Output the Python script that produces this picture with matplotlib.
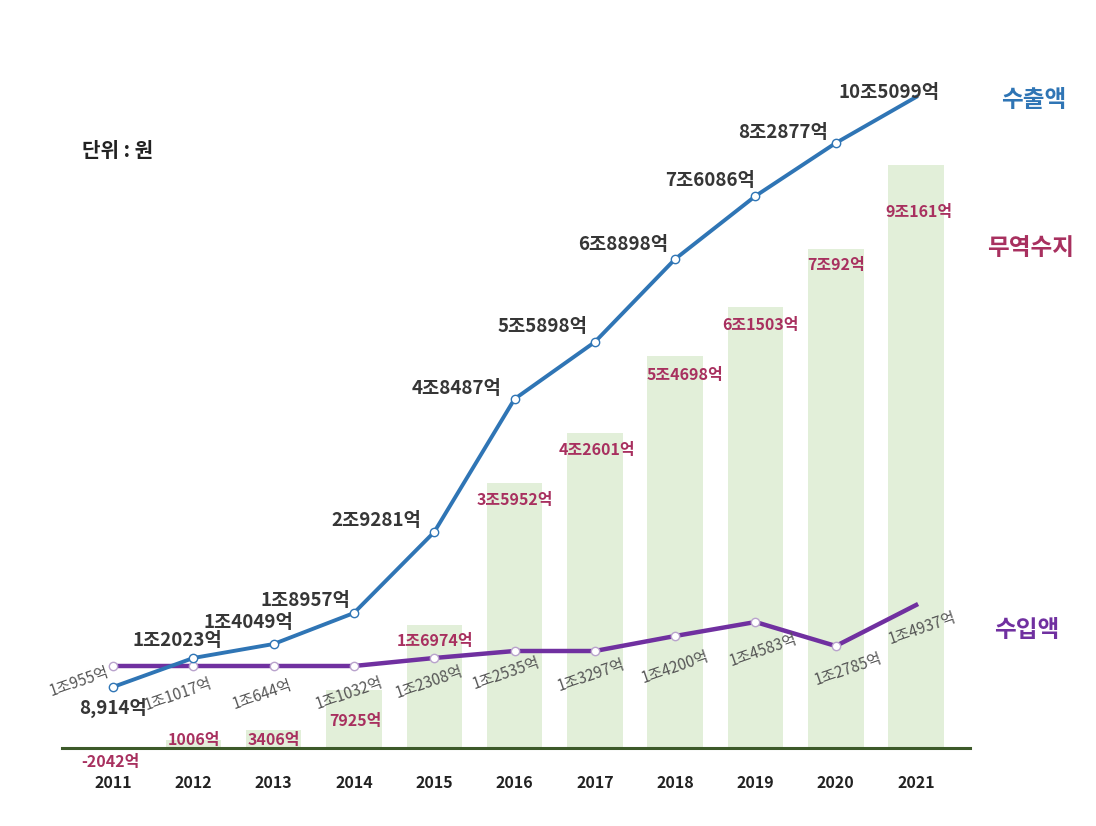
import matplotlib.pyplot as plt
import numpy as np

plt.rcParams['font.family'] = ['Noto Sans CJK KR', 'DejaVu Sans']

# --- 데이터 (단위: 억 원) ---
years = ['2011', '2012', '2013', '2014', '2015', '2016', '2017', '2018', '2019', '2020', '2021']
export_labels = ['8,914억', '1조2023억', '1조4049억', '1조8957억', '2조9281억', '4조8487억',
                 '5조5898억', '6조8898억', '7조6086억', '8조2877억', '10조5099억']
import_labels = ['1조955억', '1조1017억', '1조644억', '1조1032억', '1조2308억', '1조2535억',
                 '1조3297억', '1조4200억', '1조4583억', '1조2785억', '1조4937억']
balance_labels = ['-2042억', '1006억', '3406억', '7925억', '1조6974억', '3조5952억',
                  '4조2601억', '5조4698억', '6조1503억', '7조92억', '9조161억']

# 그림에 그려진 높이 (원본 그래프의 시각적 눈금, 비례하지 않음)
export_height = [61, 90, 104, 135, 216, 349, 406, 489, 552, 605, 651]
import_height = [82, 82, 82, 82, 90, 97, 97, 112, 126, 102, 143]
balance_height = [-2, 8, 18, 58, 123, 265, 315, 392, 441, 499, 583]

# --- 라벨 위치 (픽셀 오프셋) ---
export_off = [(0, -21), (-16, 18), (-25, 22), (-49, 13), (-58, 12), (-58, 11),
              (-52, 16), (-52, 15), (-45, 15), (-53, 11), (-27, 4)]
import_off = [(-34, -16), (-15, -28), (-11, -29), (-5, -27), (-5, -24), (-8, -22),
              (-4, -24), (0, -31), (8, -28), (12, -23), (6, -23)]
balance_off = [(-3, -14), (1, 0), (0, -10), (2, -31), (1, -16), (0, -17),
               (2, -17), (10, -19), (5, -18), (0, -16), (3, -47)]

BLUE = '#2f75b5'
PURPLE = '#7030a0'
MAROON = '#a8305f'
BAR_GREEN = '#e2efd9'
BASE_GREEN = '#3d5a2a'

fig = plt.figure(figsize=(10.96, 8.26), dpi=100)
ax = fig.add_axes([0, 0, 1, 1])
ax.set_xlim(-1.407, 12.24)
ax.set_ylim(-78, 748)
ax.axis('off')

x = np.arange(len(years))

# 무역수지 막대
ax.bar(x, balance_height, width=0.69, color=BAR_GREEN, zorder=1)
ax.plot([-0.64, 10.67], [0, 0], color=BASE_GREEN, lw=2.2, zorder=2)

# 수입액 / 수출액 선
ax.plot(x, import_height, color=PURPLE, lw=3.2, zorder=3)
ax.plot(x[:-1], import_height[:-1], 'o', ms=6, mfc='white', mec='#b9a3cc', mew=1.0, zorder=4)
ax.plot(x, export_height, color=BLUE, lw=2.8, zorder=5)
ax.plot(x[:-1], export_height[:-1], 'o', ms=6, mfc='white', mec=BLUE, mew=1.0, zorder=6)

for i in range(len(years)):
    ax.annotate(export_labels[i], (x[i], export_height[i]), xytext=export_off[i],
                textcoords='offset pixels', ha='center', va='center',
                fontsize=13.5, fontweight='bold', color='#363636', zorder=7)
    ax.annotate(import_labels[i], (x[i], import_height[i]), xytext=import_off[i],
                textcoords='offset pixels', ha='center', va='center', rotation=19,
                fontsize=11, color='#555555', zorder=7)
    ax.annotate(balance_labels[i], (x[i], max(balance_height[i], 0)), xytext=balance_off[i],
                textcoords='offset pixels', ha='center', va='center',
                fontsize=11.5, fontweight='bold', color=MAROON, zorder=7)
    ax.annotate(years[i], (x[i], 0), xytext=(0, -35), textcoords='offset pixels',
                ha='center', va='center', fontsize=11.5, fontweight='bold', color='#222222')

# 범례 텍스트
ax.text(0.943, 0.879, '수출액', transform=ax.transAxes, ha='center', va='center',
        fontsize=17, fontweight='bold', color=BLUE)
ax.text(0.940, 0.700, '무역수지', transform=ax.transAxes, ha='center', va='center',
        fontsize=17, fontweight='bold', color=MAROON)
ax.text(0.937, 0.237, '수입액', transform=ax.transAxes, ha='center', va='center',
        fontsize=17, fontweight='bold', color=PURPLE)
ax.text(0.107, 0.818, '단위 : 원', transform=ax.transAxes, ha='center', va='center',
        fontsize=14.5, fontweight='bold', color='#222222')

fig.savefig('out.png', dpi=100)
